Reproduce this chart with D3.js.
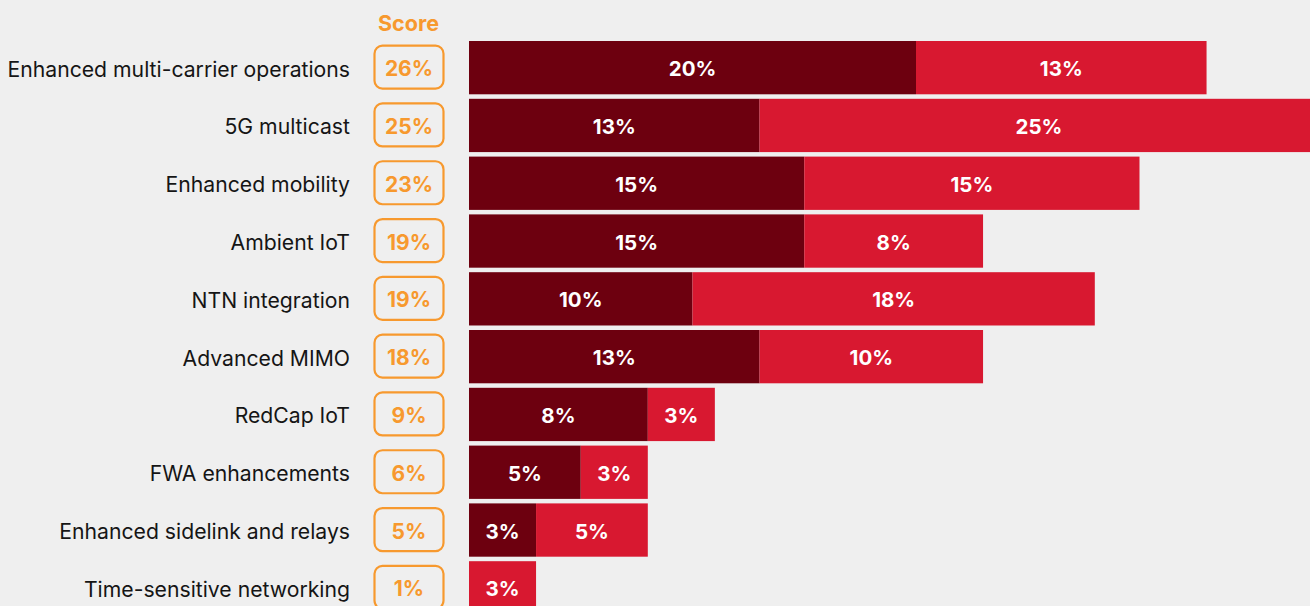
<!DOCTYPE html>
<html>
<head>
<meta charset="utf-8">
<script src="https://cdn.jsdelivr.net/npm/d3@7"></script>
<style>
  html, body { margin: 0; padding: 0; background: #efefef; }
  svg { display: block; font-family: Inter, "Noto Sans", sans-serif; }
</style>
</head>
<body>
<svg id="chart" width="1310" height="606"></svg>
<script>
// Features, ranked by overall score
const categories = [
  "Enhanced multi-carrier operations",
  "5G multicast",
  "Enhanced mobility",
  "Ambient IoT",
  "NTN integration",
  "Advanced MIMO",
  "RedCap IoT",
  "FWA enhancements",
  "Enhanced sidelink and relays",
  "Time-sensitive networking"
];
const scores = [26, 25, 23, 19, 19, 18, 9, 6, 5, 1];
const seriesA = [20, 13, 15, 15, 10, 13, 8, 5, 3, 0];
const seriesB = [13, 25, 15, 8, 18, 10, 3, 3, 5, 3];
const seriesColors = ["#6d000f", "#d81830"];
const scoreColor = "#f7992e";

const svg = d3.select("#chart");

const rowStep = 57.8;
const padInner = 0.078;
const y = d3.scaleBand()
  .domain(categories)
  .range([41, 41 + rowStep * (categories.length - padInner)])
  .paddingInner(padInner)
  .paddingOuter(0);

const x = d3.scaleLinear().domain([0, 1]).range([469, 491.35]);

// Stacked data
const stacked = d3.stack().keys([0, 1])(
  categories.map((c, i) => ({ cat: c, 0: seriesA[i], 1: seriesB[i] }))
);

// "Score" header
svg.append("text")
  .attr("x", 408.5).attr("y", 23)
  .attr("text-anchor", "middle").attr("dominant-baseline", "central")
  .attr("fill", scoreColor).attr("font-weight", 700).attr("font-size", 21.5)
  .text("Score");

// Category labels
svg.append("g").selectAll("text").data(categories).join("text")
  .attr("x", 350)
  .attr("y", d => y(d) + y.bandwidth() / 2 + 1)
  .attr("text-anchor", "end").attr("dominant-baseline", "central")
  .attr("fill", "#151515").attr("font-size", 21.2)
  .text(d => d);

// Score boxes
const sg = svg.append("g").selectAll("g").data(categories).join("g")
  .attr("transform", d => `translate(0,${y(d) + y.bandwidth() / 2})`);
sg.append("rect")
  .attr("x", 374.5).attr("y", -22).attr("width", 69).attr("height", 43)
  .attr("rx", 8).attr("ry", 8)
  .attr("fill", "none").attr("stroke", scoreColor).attr("stroke-width", 2.2);
sg.append("text")
  .attr("x", 409).attr("y", 1)
  .attr("text-anchor", "middle").attr("dominant-baseline", "central")
  .attr("fill", scoreColor).attr("font-weight", 700).attr("font-size", 21)
  .text((d, i) => scores[i] + "%");

// Bars
const layers = svg.append("g").selectAll("g").data(stacked).join("g")
  .attr("fill", (d, i) => seriesColors[i]);
layers.selectAll("rect").data(d => d.filter(p => p[1] - p[0] > 0)).join("rect")
  .attr("x", d => x(d[0]))
  .attr("y", d => y(d.data.cat))
  .attr("width", d => x(d[1]) - x(d[0]))
  .attr("height", y.bandwidth());

// Segment value labels
layers.selectAll("text").data(d => d.filter(p => p[1] - p[0] > 0)).join("text")
  .attr("x", d => (x(d[0]) + x(d[1])) / 2)
  .attr("y", d => y(d.data.cat) + y.bandwidth() / 2 + 1)
  .attr("text-anchor", "middle").attr("dominant-baseline", "central")
  .attr("fill", "#ffffff").attr("font-weight", 700).attr("font-size", 20.5)
  .text(d => (d[1] - d[0]) + "%");
</script>
</body>
</html>
